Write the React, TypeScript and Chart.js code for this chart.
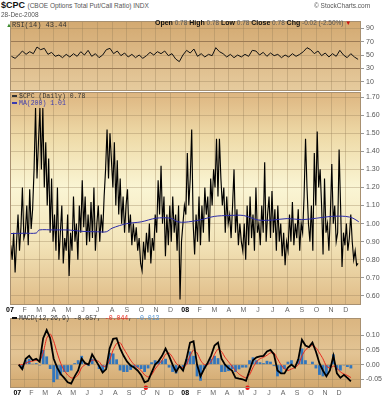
import React, { useEffect, useRef } from 'react';
import { Chart, registerables } from 'chart.js';

Chart.register(...registerables);

// ---------- data ----------
const monthLabels = ['07', 'F', 'M', 'A', 'M', 'J', 'J', 'A', 'S', 'O', 'N', 'D', '08', 'F', 'M', 'A', 'M', 'J', 'J', 'A', 'S', 'O', 'N', 'D'];

// $CPC daily (sampled ~every 2 trading days), Jan 2007 -> Dec 2008
const cpcValues = [
  0.88, 0.80, 0.95, 0.73, 0.90, 1.05, 0.85, 0.98, 1.20, 0.92,
  0.95, 1.10, 0.88, 1.19, 0.97, 1.08, 1.30, 1.64, 1.25, 1.45,
  1.64, 1.30, 1.64, 1.20, 1.45, 1.10, 1.36, 0.95, 1.25, 0.90,
  1.05, 0.85, 1.20, 0.80, 0.95, 1.10, 0.78, 0.92, 0.85, 1.05,
  0.71, 0.95, 0.85, 1.15, 0.90, 1.00, 0.80, 1.10, 0.95, 1.24,
  0.98, 1.15, 0.88, 1.05, 0.90, 1.12, 0.92, 1.20, 0.85, 1.00,
  1.10, 0.90, 1.05, 0.95, 1.15, 1.30, 1.52, 1.25, 1.50, 1.35,
  1.20, 1.45, 1.10, 1.35, 1.05, 1.25, 1.00, 1.15, 0.95, 1.10,
  1.19, 0.95, 1.05, 0.88, 1.00, 0.90, 0.98, 0.85, 0.92, 0.78,
  0.74, 0.90, 0.80, 0.95, 0.84, 1.00, 0.78, 0.92, 0.85, 1.05,
  0.95, 1.24, 1.05, 1.32, 1.00, 1.15, 0.82, 1.05, 0.88, 1.10,
  0.90, 1.15, 0.95, 1.05, 0.85, 1.10, 0.58, 0.90, 1.00, 1.10,
  1.05, 1.39, 1.10, 1.25, 1.52, 1.00, 0.83, 1.05, 0.90, 1.15,
  0.88, 1.10, 0.95, 1.20, 1.05, 1.15, 0.90, 1.25, 1.10, 1.30,
  1.20, 1.47, 1.15, 1.47, 1.25, 1.10, 1.20, 0.95, 1.15, 1.00,
  1.05, 0.92, 1.10, 1.30, 0.95, 1.08, 0.88, 1.00, 0.90, 0.85,
  1.00, 0.80, 1.10, 0.88, 1.15, 0.92, 1.05, 0.85, 1.20, 0.95,
  1.00, 0.88, 1.10, 0.95, 1.34, 0.90, 1.05, 1.15, 0.92, 1.18,
  0.95, 1.08, 0.85, 1.10, 0.90, 1.00, 0.82, 0.95, 0.77, 0.90,
  0.85, 1.05, 0.90, 1.12, 0.88, 1.00, 0.92, 1.08, 0.85, 1.00,
  0.95, 1.15, 1.47, 1.20, 1.00, 0.90, 1.10, 0.85, 1.39, 1.10,
  1.51, 1.20, 1.30, 1.10, 0.83, 1.25, 0.95, 1.00, 0.85, 1.05,
  1.33, 1.00, 1.10, 0.90, 0.95, 1.41, 1.10, 0.76, 0.95, 0.88,
  1.00, 0.85, 0.92, 1.05, 0.90, 0.80, 0.85, 0.77, 0.78,
];
const cpcStart = 0.05; // month units
const cpcStep = 0.1;

// MA(200)
const maMonths = [0.05, 1, 1.8, 2, 3, 4, 5, 6, 6.6, 7, 8, 9, 10, 11, 11.5, 12, 13, 14, 15, 16, 17, 18, 19, 20, 21, 22, 23, 23.5, 23.9];
const maValues = [0.945, 0.947, 0.948, 0.965, 0.965, 0.965, 0.957, 0.955, 0.955, 0.975, 1.0, 1.01, 1.03, 1.03, 1.01, 1.008, 1.02, 1.04, 1.045, 1.045, 1.02, 1.02, 1.028, 1.022, 1.03, 1.04, 1.04, 1.03, 1.01];

// weekly-ish samples (every quarter month) for RSI and MACD
const qStart = 0.1;
const qStep = 0.25;
const rsiValues = [
  48, 45, 50, 56, 51, 55, 52, 62, 58, 60, 51, 54, 48, 50, 46, 51, 47, 52, 48, 55,
  50, 57, 48, 52, 46, 50, 58, 60, 52, 56, 49, 53, 47, 51, 46, 50, 45, 49, 54, 50,
  55, 52, 56, 49, 52, 44, 40, 50, 57, 53, 59, 48, 52, 47, 51, 49, 61, 55, 52, 47,
  51, 46, 50, 47, 51, 48, 57, 56, 50, 54, 48, 53, 49, 51, 46, 50, 47, 52, 48, 51,
  55, 61, 58, 52, 56, 49, 53, 47, 52, 48, 57, 50, 46, 52, 47, 43.44,
];
const macdValues = [
  0.0, -0.015, 0.02, 0.03, 0.015, 0.02, 0.01, 0.09, 0.118, 0.09,
  0.02, -0.01, -0.032, -0.045, -0.06, -0.065, -0.04, -0.02, 0.02, 0.005,
  0.0, 0.035, 0.015, -0.005, -0.027, -0.015, 0.055, 0.088, 0.09, 0.055,
  0.03, 0.01, -0.003, -0.01, -0.02, -0.035, -0.06, -0.055, -0.027, 0.0,
  0.012, 0.03, 0.055, 0.03, 0.0, -0.025, -0.005, -0.02, 0.02, 0.075,
  0.08, 0.0, -0.04, -0.015, 0.005, 0.03, 0.065, 0.075, 0.02, 0.0,
  -0.012, -0.02, -0.045, -0.048, -0.05, -0.055, -0.02, 0.015, 0.025, 0.028,
  0.03, 0.045, 0.05, 0.035, -0.02, -0.03, -0.03, -0.01, 0.0, -0.01,
  0.02, 0.085, 0.065, 0.06, 0.075, 0.045, 0.005, -0.02, -0.04, -0.02,
  0.03, -0.03, -0.045, -0.035, -0.045, -0.057,
];
const signalValues = [
  0.0, 0.0, 0.005, 0.01, 0.012, 0.015, 0.013, 0.04, 0.09, 0.105,
  0.08, 0.04, 0.005, -0.02, -0.035, -0.045, -0.045, -0.035, -0.01, 0.0,
  0.005, 0.015, 0.015, 0.01, -0.005, -0.005, 0.015, 0.05, 0.072, 0.075,
  0.055, 0.035, 0.015, 0.0, -0.01, -0.02, -0.035, -0.042, -0.035, -0.015,
  0.0, 0.015, 0.035, 0.04, 0.025, 0.005, -0.005, -0.01, 0.0, 0.03,
  0.05, 0.04, 0.015, 0.0, 0.0, 0.01, 0.035, 0.053, 0.045, 0.025,
  0.01, -0.005, -0.02, -0.032, -0.04, -0.045, -0.035, -0.01, 0.01, 0.02,
  0.025, 0.032, 0.04, 0.04, 0.02, 0.0, -0.015, -0.02, -0.015, -0.01,
  0.0, 0.03, 0.05, 0.06, 0.065, 0.058, 0.04, 0.02, -0.005, -0.012,
  -0.005, -0.012, -0.025, -0.032, -0.037, -0.044,
];
const histValues = [
  0.0, -0.015, 0.015, 0.02, 0.003, 0.005, -0.003, 0.05, 0.028, -0.015,
  -0.06, -0.05, -0.037, -0.025, -0.025, -0.02, 0.005, 0.015, 0.03, 0.005,
  -0.005, 0.02, 0.0, -0.015, -0.022, -0.01, 0.04, 0.038, 0.018, -0.02,
  -0.025, -0.025, -0.018, -0.01, -0.01, -0.015, -0.025, -0.013, 0.008, 0.015,
  0.012, 0.015, 0.02, -0.01, -0.025, -0.03, 0.0, -0.01, 0.02, 0.045,
  0.03, -0.04, -0.055, -0.015, 0.005, 0.02, 0.03, 0.022, -0.025, -0.025,
  -0.022, -0.015, -0.025, -0.016, -0.01, -0.01, 0.015, 0.025, 0.015, 0.008,
  0.005, 0.013, 0.01, -0.005, -0.04, -0.03, -0.015, 0.01, 0.015, 0.0,
  0.02, 0.055, 0.015, 0.0, 0.01, -0.013, -0.035, -0.04, -0.035, -0.008,
  0.035, -0.018, -0.02, -0.003, -0.008, -0.013,
];
const markerMonths = [9.19, 16.46];

const rsiTicks = [10, 30, 50, 70, 90];
const priceTicks = [0.6, 0.7, 0.8, 0.9, 1.0, 1.1, 1.2, 1.3, 1.4, 1.5, 1.6, 1.7];
const macdTicks = [-0.05, 0, 0.05, 0.1];

// ---------- styling helpers ----------
const X_MIN = 0;
const X_MAX = 24.05;
const W = 388;
const AXIS_W = 27;
const FONT = "'Liberation Sans', Arial, sans-serif";
const MONO = "'Liberation Mono', 'DejaVu Sans Mono', monospace";
const GRID = 'rgba(150,125,90,0.35)';

function panelPlugin(stops: [number, string][]) {
  return {
    id: 'panelBg',
    beforeDraw(chart: any) {
      const { ctx, chartArea: a, width, height } = chart;
      ctx.save();
      ctx.fillStyle = '#ffffff';
      ctx.fillRect(0, 0, width, height);
      const g = ctx.createLinearGradient(0, a.top, 0, a.bottom);
      stops.forEach(([o, c]) => g.addColorStop(o, c));
      ctx.fillStyle = g;
      ctx.fillRect(a.left, a.top, a.right - a.left, a.bottom - a.top);
      ctx.restore();
    },
    afterDraw(chart: any) {
      const { ctx, chartArea: a } = chart;
      ctx.save();
      ctx.strokeStyle = '#a89070';
      ctx.lineWidth = 1;
      ctx.strokeRect(Math.round(a.left) + 0.5, Math.round(a.top) + 0.5, Math.round(a.right - a.left) - 1, Math.round(a.bottom - a.top) - 1);
      ctx.restore();
    },
  };
}

function xAxis(showLabels: boolean, h: number) {
  return {
    type: 'linear',
    min: X_MIN,
    max: X_MAX,
    afterBuildTicks: (s: any) => {
      s.ticks = monthLabels.map((_, i) => ({ value: i }));
    },
    afterFit: (s: any) => {
      s.height = h;
      s.paddingLeft = 0;
      s.paddingRight = 0;
    },
    grid: { color: GRID, drawTicks: false, lineWidth: 1 },
    border: { display: false },
    ticks: {
      display: showLabels,
      autoSkip: false,
      maxRotation: 0,
      minRotation: 0,
      padding: 1,
      callback: (v: number) => monthLabels[Math.round(v)] ?? '',
      font: (c: any) => ({ family: FONT, size: 7, weight: c.tick && Math.round(c.tick.value) % 12 === 0 ? 'bold' : 'normal' }),
      color: (c: any) => (c.tick && Math.round(c.tick.value) % 12 === 0 ? '#000' : '#666'),
    },
  };
}

function yAxis(min: number, max: number, ticks: number[], fmt: (v: number) => string, gridColor: any) {
  return {
    position: 'right',
    min,
    max,
    afterBuildTicks: (s: any) => {
      s.ticks = ticks.map((v) => ({ value: v }));
    },
    afterFit: (s: any) => {
      s.width = AXIS_W;
      s.paddingTop = 0;
      s.paddingBottom = 0;
    },
    grid: { color: gridColor, tickLength: 3, tickColor: '#999', drawTicks: true },
    border: { display: false },
    ticks: { padding: 2, font: { family: FONT, size: 7 }, color: '#555', callback: (v: number) => fmt(v) },
  };
}

const baseOptions = {
  responsive: false,
  maintainAspectRatio: false,
  animation: false,
  events: [],
  layout: { padding: { left: 10, right: 0, top: 0, bottom: 0 } },
  plugins: { legend: { display: false }, tooltip: { enabled: false } },
};

function rsiConfig(): any {
  return {
    type: 'line',
    data: {
      datasets: [
        {
          data: rsiValues.map((v, i) => ({ x: qStart + i * qStep, y: v })),
          borderColor: '#111',
          borderWidth: 1,
          pointRadius: 0,
          tension: 0,
        },
      ],
    },
    options: {
      ...baseOptions,
      scales: {
        x: xAxis(false, 0),
        y: yAxis(-4.1, 101.1, rsiTicks, (v) => String(v), (c: any) =>
          c.tick && (c.tick.value === 70 || c.tick.value === 30) ? '#9c7b55' : GRID),
      },
    },
    plugins: [panelPlugin([[0, '#d3a971'], [1, '#e6cb9e']])],
  };
}

function priceConfig(): any {
  return {
    type: 'line',
    data: {
      datasets: [
        {
          data: maMonths.map((m, i) => ({ x: m, y: maValues[i] })),
          borderColor: '#2a2aa8',
          borderWidth: 1,
          pointRadius: 0,
          tension: 0.3,
          order: 0,
        },
        {
          data: cpcValues.map((v, i) => ({ x: cpcStart + i * cpcStep, y: v })),
          borderColor: '#000',
          borderWidth: 1.15,
          pointRadius: 0,
          tension: 0,
          order: 1,
        },
      ],
    },
    options: {
      ...baseOptions,
      scales: {
        x: xAxis(true, 9),
        y: yAxis(0.55, 1.728, priceTicks, (v) => v.toFixed(2), GRID),
      },
    },
    plugins: [panelPlugin([[0, '#ddb580'], [0.22, '#efdcaa'], [0.45, '#faf5d4'], [0.7, '#f3e5ba'], [1, '#dfbb86']])],
  };
}

function macdConfig(): any {
  return {
    type: 'line',
    data: {
      datasets: [
        {
          data: macdValues.map((v, i) => ({ x: qStart + i * qStep, y: v })),
          borderColor: '#000',
          borderWidth: 1.8,
          pointRadius: 0,
          tension: 0,
          order: 1,
        },
        {
          data: signalValues.map((v, i) => ({ x: qStart + i * qStep, y: v })),
          borderColor: '#e8261c',
          borderWidth: 1,
          pointRadius: 0,
          tension: 0.2,
          order: 2,
        },
        {
          type: 'bar',
          data: histValues.map((v, i) => ({ x: qStart + i * qStep, y: v })),
          backgroundColor: '#3276bd',
          barPercentage: 0.8,
          categoryPercentage: 1,
          order: 3,
        },
        {
          data: markerMonths.map((m) => ({ x: m, y: -0.079 })),
          showLine: false,
          pointRadius: 2.2,
          pointBackgroundColor: '#ee1111',
          pointBorderWidth: 0,
          clip: false,
          order: 0,
        },
      ],
    },
    options: {
      ...baseOptions,
      scales: {
        x: xAxis(true, 12),
        y: yAxis(-0.0797, 0.159, macdTicks, (v) => v.toFixed(2), GRID),
      },
    },
    plugins: [panelPlugin([[0, '#dab580'], [0.5, '#e3c494'], [1, '#d2a76d']])],
  };
}

function Panel({ top, height, make }: { top: number; height: number; make: () => any }) {
  const ref = useRef<HTMLCanvasElement>(null);
  useEffect(() => {
    const chart = new Chart(ref.current as HTMLCanvasElement, make());
    return () => chart.destroy();
  }, []);
  return (
    <canvas
      ref={ref}
      width={W}
      height={height}
      style={{ position: 'absolute', left: 0, top, width: W, height, display: 'block' }}
    />
  );
}

const abs = (left: number, top: number, extra: any = {}) => ({
  position: 'absolute' as const,
  left,
  top,
  whiteSpace: 'nowrap' as const,
  lineHeight: 1,
  ...extra,
});

export default function App() {
  const b = { fontWeight: 'bold' as const, color: '#111', fontSize: 7 };
  const n = { color: '#555', fontSize: 6.5 };
  return (
    <div style={{ position: 'absolute', left: 0, top: 0, width: W, height: 400, background: '#fff', overflow: 'hidden', fontFamily: FONT }}>
      <Panel top={21} height={70} make={rsiConfig} />
      <Panel top={92} height={222} make={priceConfig} />
      <Panel top={314} height={86} make={macdConfig} />

      {/* header */}
      <div style={abs(1, 1, { fontSize: 9, fontWeight: 'bold', color: '#111' })}>
        $CPC <span style={{ fontSize: 6.5, fontWeight: 'normal', color: '#555' }}>(CBOE Options Total Put/Call Ratio) INDX</span>
      </div>
      <div style={abs(314, 3, { fontSize: 6.5, color: '#555' })}>© StockCharts.com</div>
      <div style={abs(1, 12, { fontSize: 6.5, color: '#555' })}>28-Dec-2008</div>
      <div style={abs(155, 11.5)}>
        <span style={b}>Open</span><span style={n}> 0.78 </span>
        <span style={b}>High</span><span style={n}> 0.78 </span>
        <span style={b}>Low</span><span style={n}> 0.78 </span>
        <span style={b}>Close</span><span style={n}> 0.78 </span>
        <span style={b}>Chg</span><span style={n}> -0.02 (-2.50%) </span>
        <span style={{ color: '#d01010', fontSize: 6 }}>▼</span>
      </div>

      {/* panel legends */}
      <div style={abs(6, 22, { fontSize: 6, color: '#3c8a2c' })}>▲</div>
      <div style={abs(12, 22, { fontSize: 7, color: '#333', fontFamily: MONO })}>RSI(14) 43.44</div>

      <div style={abs(12, 94, { fontSize: 6.5, color: '#333', fontFamily: MONO })}>
        <span style={{ display: 'inline-block', width: 5, height: 2, background: '#333', verticalAlign: 'middle', marginRight: 2 }} />
        $CPC (Daily) 0.78
      </div>
      <div style={abs(12, 101, { fontSize: 6.5, color: '#3b3bb0', fontFamily: MONO })}>
        <span style={{ display: 'inline-block', width: 5, height: 2, background: '#3b3bb0', verticalAlign: 'middle', marginRight: 2 }} />
        MA(200) 1.01
      </div>

      <div style={abs(12, 316, { fontSize: 6.5, color: '#333', fontFamily: MONO })}>
        <span style={{ display: 'inline-block', width: 5, height: 2, background: '#111', verticalAlign: 'middle', marginRight: 2 }} />
        MACD(12,26,9) -0.057, <span style={{ color: '#e8261c' }}>-0.044</span>, <span style={{ color: '#4d8fd0' }}>-0.013</span>
      </div>
    </div>
  );
}
